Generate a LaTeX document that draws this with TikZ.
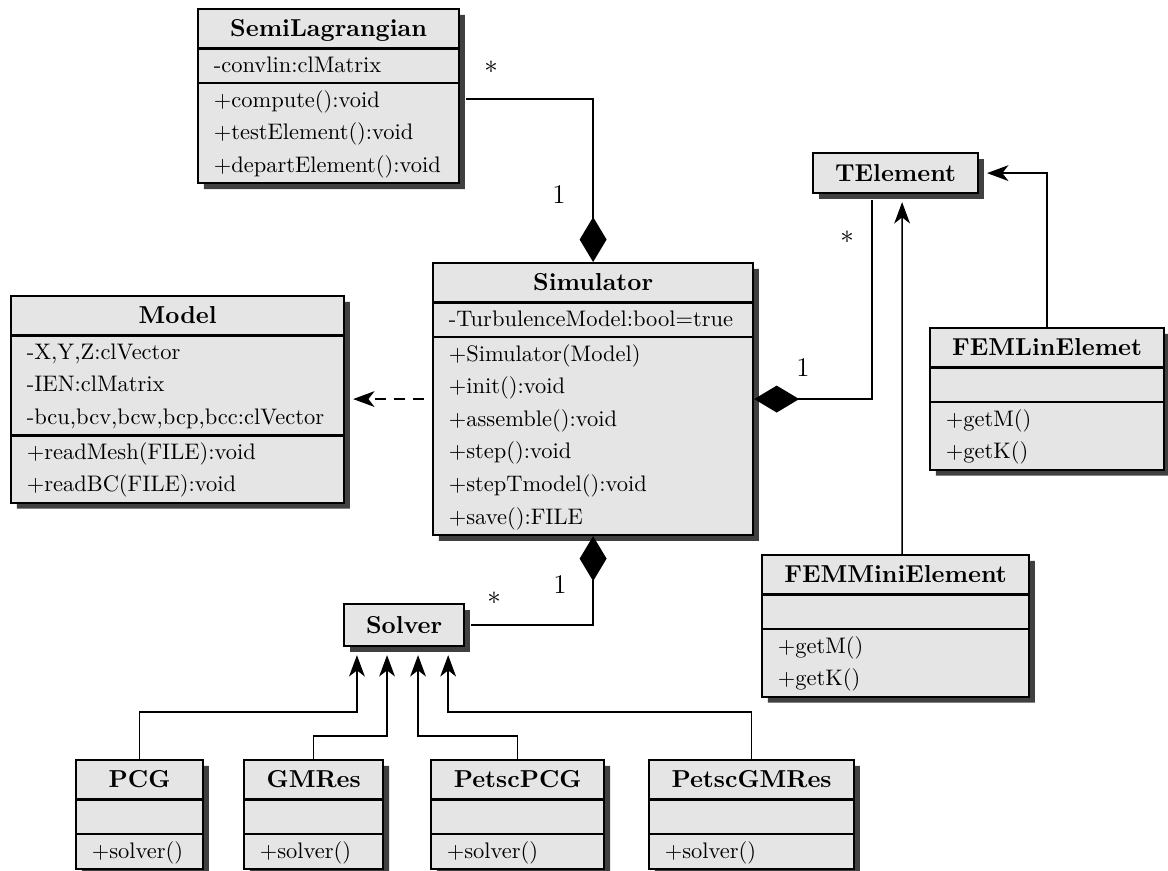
\documentclass[tikz,border=0pt]{standalone}
\usetikzlibrary{shapes.multipart,shadows,arrows.meta}
\hyphenpenalty=10000
\exhyphenpenalty=10000
\newcommand{\clsfont}{\fontsize{10.9}{13}\selectfont\bfseries}
\newcommand{\clstitle}[1]{\noindent\hbox to\hsize{\hfil\rule[-4.7pt]{0pt}{16.5pt}{\clsfont #1}\hfil}}
\tikzset{
  umlshadow/.style={drop shadow={shadow xshift=2.6pt, shadow yshift=-2.6pt, fill=black!75, opacity=1}},
  umlclass/.style={draw, line width=1pt, fill=black!10, rectangle split, rectangle split parts=3,
    anchor=north west, align=left, inner xsep=7pt, inner ysep=0pt,
    font=\fontsize{10}{14.5}\selectfont, umlshadow},
  umlsimple/.style={draw, line width=1pt, fill=black!10, anchor=north west, font=\clsfont, umlshadow},
  compo/.style={{Diamond[length=20pt,width=12pt]}-, line width=0.7pt, shorten >=2.7pt},
  inh/.style={-{Stealth[length=9.5pt,width=7pt,inset=2.7pt]}, line width=0.7pt, shorten >=3.5pt},
  dep/.style={inh, dash pattern=on 5pt off 3.5pt, shorten <=3.5pt},
  mult/.style={font=\large, inner sep=0pt}
}
\begin{document}
\begin{tikzpicture}[x=0.445pt, y=-0.445pt]
\useasboundingbox (0,0) rectangle (1168,871);

% classes
\node[umlclass, text width=102.1pt] (semi) at (197,8) {\clstitle{SemiLagrangian}
  \nodepart{two}\strut-convlin:clMatrix
  \nodepart{three}\strut+compute():void\\ \strut+testElement():void\\ \strut+departElement():void};
\node[umlclass, text width=134.2pt] (model) at (10,295) {\clstitle{Model}
  \nodepart{two}\strut-X,Y,Z:clVector\\ \strut-IEN:clMatrix\\ \strut-bcu,bcv,bcw,bcp,bcc:clVector
  \nodepart{three}\strut+readMesh(FILE):void\\ \strut+readBC(FILE):void};
\node[umlclass, text width=128.4pt] (sim) at (432,262) {\clstitle{Simulator}
  \nodepart{two}\strut-TurbulenceModel:bool=true
  \nodepart{three}\strut+Simulator(Model)\\ \strut+init():void\\ \strut+assemble():void\\
    \strut+step():void\\ \strut+stepTmodel():void\\ \strut+save():FILE};
\node[umlsimple, minimum width=73.4pt, minimum height=17.8pt] (telem) at (812,152) {TElement};
\node[umlclass, text width=90.1pt] (femlin) at (929,327) {\clstitle{FEMLinElemet}
  \nodepart{two}\strut
  \nodepart{three}\strut+getM()\\ \strut+getK()};
\node[umlclass, text width=104.8pt] (femmini) at (761,554) {\clstitle{FEMMiniElement}
  \nodepart{two}\strut
  \nodepart{three}\strut+getM()\\ \strut+getK()};
\node[umlsimple, minimum width=53.4pt, minimum height=18.7pt] (solver) at (343,603) {Solver};
\node[umlclass, text width=42.5pt] (pcg) at (75,759) {\clstitle{PCG}
  \nodepart{two}\strut \nodepart{three}\strut+solver()};
\node[umlclass, text width=47.9pt] (gmres) at (243,759) {\clstitle{GMRes}
  \nodepart{two}\strut \nodepart{three}\strut+solver()};
\node[umlclass, text width=63pt] (petscpcg) at (430,759) {\clstitle{PetscPCG}
  \nodepart{two}\strut \nodepart{three}\strut+solver()};
\node[umlclass, text width=77.2pt] (petscgmres) at (648,759) {\clstitle{PetscGMRes}
  \nodepart{two}\strut \nodepart{three}\strut+solver()};

% multiplicities
\node[mult] (semistar) at (491,67) {$*$};
\node[mult] (semione) at (559,195) {1};
\node[mult] (telemone) at (803,368) {1};
\node[mult] (telemstar) at (847,237) {$*$};
\node[mult] (solverone) at (560,585) {1};
\node[mult] (solverstar) at (494,598) {$*$};

% relations
\draw[compo] (sim.north) |- ([yshift=-1.3pt]semi.east);
\draw[compo] (sim.east) -| ([xshift=-10.5pt]telem.south);
\draw[compo] (sim.south) |- (solver.east);
\draw[dep] (sim.west) -- (model.east |- sim.west);
\draw[inh] (femlin.north) |- (telem.east);
\draw[inh] ([xshift=2.9pt]femmini.north) -- ([xshift=2.9pt]telem.south);
\draw[inh] (pcg.north) -- ++(0,-47) -| ([xshift=-21pt]solver.south);
\draw[inh] (gmres.north) -- ++(0,-23) -| ([xshift=-7.6pt]solver.south);
\draw[inh] (petscpcg.north) -- ++(0,-23) -| ([xshift=6.2pt]solver.south);
\draw[inh] (petscgmres.north) -- ++(0,-47) -| ([xshift=19.6pt]solver.south);
\end{tikzpicture}
\end{document}
